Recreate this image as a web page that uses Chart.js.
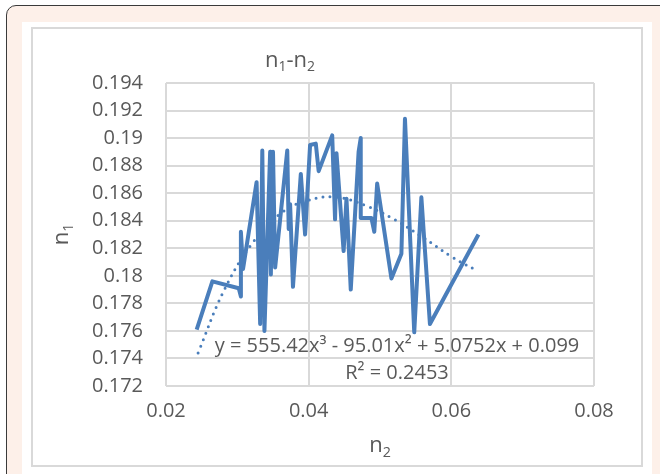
<!DOCTYPE html>
<html>
<head>
<meta charset="utf-8">
<script src="https://cdn.jsdelivr.net/npm/chart.js"></script>
<style>
  body { margin: 0; background: #fff; }
  #wrap { position: relative; width: 660px; height: 474px; overflow: hidden; }
  #outer { position: absolute; left: 6px; top: 5px; width: 700px; height: 520px;
           border: 1.5px solid #3a3a3a; border-radius: 10px; background: #fdf0e9; }
  #paper { position: absolute; left: 22px; top: 22px; width: 630px; height: 460px; background: #fff; }
  #frame { position: absolute; left: 31px; top: 27px; width: 608px; height: 436px;
           border: 2px solid #d9d9d9; }
  canvas { position: absolute; left: 0; top: 0; }
</style>
</head>
<body>
<div id="wrap">
  <div id="outer"></div>
  <div id="paper"></div>
  <div id="frame"></div>
  <canvas id="grafico" width="660" height="474"></canvas>
</div>
<script>
// valores
const n2 = [0.0243, 0.0265, 0.0302, 0.0305, 0.0305, 0.0308, 0.0327, 0.0332, 0.0335, 0.0338,
            0.0346, 0.0347, 0.0350, 0.0353, 0.0370, 0.0372, 0.0374, 0.0378, 0.0389, 0.0395,
            0.0402, 0.0410, 0.0414, 0.0433, 0.0437, 0.0439, 0.0449, 0.0453, 0.0459, 0.0470,
            0.0473, 0.0473, 0.0488, 0.0492, 0.0496, 0.0516, 0.0530, 0.0535, 0.0548, 0.0558,
            0.0570, 0.0638];
const n1 = [0.1761, 0.1796, 0.1791, 0.1785, 0.1832, 0.1805, 0.1868, 0.1765, 0.1891, 0.1760,
            0.1890, 0.1801, 0.1890, 0.1806, 0.1891, 0.1834, 0.1852, 0.1792, 0.1874, 0.1830,
            0.1895, 0.1896, 0.1876, 0.1902, 0.1841, 0.1889, 0.1818, 0.1856, 0.1790, 0.1890,
            0.1900, 0.1842, 0.1842, 0.1832, 0.1867, 0.1798, 0.1816, 0.1914, 0.1759, 0.1857,
            0.1765, 0.1830];

const tendX = [0.0245, 0.028, 0.032, 0.036, 0.040, 0.044, 0.048, 0.052, 0.056, 0.060, 0.0635];
const tendY = [0.1744, 0.1788, 0.1823, 0.1845, 0.1855, 0.1857, 0.1851, 0.1841, 0.1828, 0.1814, 0.1804];

const ejeX = [0.02, 0.08, 0.02];      // min, max, paso
const ejeY = [0.172, 0.194, 0.002];

const ecuacion = 'y = 555.42x³ - 95.01x² + 5.0752x + 0.099';
const r2 = 'R² = 0.2453';

const azul = '#4a7ebb';
const gris = '#595959';
const fuente = '"Open Sans", sans-serif';

function textoSub(ctx, base, sub, x, y, size) {
  ctx.font = size + 'px ' + fuente;
  const w1 = ctx.measureText(base).width;
  ctx.font = (size * 0.65) + 'px ' + fuente;
  const w2 = ctx.measureText(sub).width;
  let cx = x - (w1 + w2) / 2;
  ctx.textAlign = 'left';
  ctx.font = size + 'px ' + fuente;
  ctx.fillText(base, cx, y);
  ctx.font = (size * 0.65) + 'px ' + fuente;
  ctx.fillText(sub, cx + w1, y + size * 0.3);
  return cx + w1 + w2;
}

const textos = {
  id: 'textos',
  afterDraw(chart) {
    const ctx = chart.ctx;
    const a = chart.chartArea;
    ctx.save();
    ctx.fillStyle = gris;
    ctx.textBaseline = 'middle';

    // titulo n1-n2
    const partes = [['n', 22, 0], ['1', 14, 6], ['-', 22, 0], ['n', 22, 0], ['2', 14, 6]];
    let w = 0;
    partes.forEach(p => { ctx.font = p[1] + 'px ' + fuente; w += ctx.measureText(p[0]).width; });
    let x = 290 - w / 2;
    ctx.textAlign = 'left';
    partes.forEach(p => {
      ctx.font = p[1] + 'px ' + fuente;
      ctx.fillText(p[0], x, 61 + p[2]);
      x += ctx.measureText(p[0]).width;
    });

    // titulos de ejes
    textoSub(ctx, 'n', '2', (a.left + a.right) / 2, 446, 22);
    ctx.save();
    ctx.translate(62, (a.top + a.bottom) / 2);
    ctx.rotate(-Math.PI / 2);
    textoSub(ctx, 'n', '1', 0, 0, 22);
    ctx.restore();

    // ecuacion y R2
    ctx.textAlign = 'center';
    ctx.font = '20px ' + fuente;
    ctx.fillText(ecuacion, 397, 346);
    ctx.fillText(r2, 397, 373);
    ctx.restore();
  }
};

new Chart(document.getElementById('grafico'), {
  type: 'scatter',
  data: {
    datasets: [{
      label: 'n1',
      data: n2.map((v, i) => ({ x: v, y: n1[i] })),
      showLine: true,
      borderColor: azul,
      borderWidth: 4,
      borderJoinStyle: 'round',
      pointRadius: 0,
      tension: 0
    }, {
      label: 'tendencia',
      data: tendX.map((v, i) => ({ x: v, y: tendY[i] })),
      showLine: true,
      borderColor: azul,
      borderWidth: 3,
      borderDash: [0, 7],
      borderCapStyle: 'round',
      pointRadius: 0,
      tension: 0.4
    }]
  },
  options: {
    responsive: false,
    animation: false,
    layout: { padding: { left: 0, top: 83, right: 66, bottom: 0 } },
    plugins: { legend: { display: false }, tooltip: { enabled: false } },
    scales: {
      x: {
        type: 'linear',
        min: ejeX[0], max: ejeX[1],
        ticks: { stepSize: ejeX[2], color: gris, font: { family: fuente, size: 20 }, padding: 13 },
        grid: { color: '#d9d9d9', lineWidth: 2, drawTicks: false },
        border: { display: false },
        afterFit: s => { s.height = 88; }
      },
      y: {
        min: ejeY[0], max: ejeY[1],
        ticks: {
          stepSize: ejeY[2], color: gris, font: { family: fuente, size: 20 }, padding: 23,
          callback: v => String(+v.toFixed(3))
        },
        grid: { color: '#d9d9d9', lineWidth: 2, drawTicks: false },
        border: { display: false },
        afterFit: s => { s.width = 166; }
      }
    }
  },
  plugins: [textos]
});
</script>
</body>
</html>
